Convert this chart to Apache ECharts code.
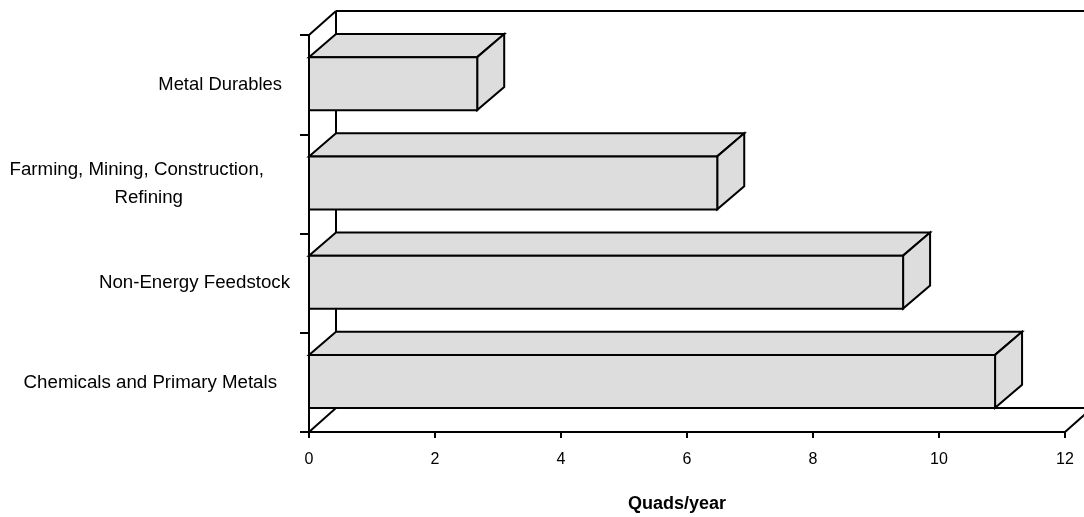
<!DOCTYPE html>
<html>
<head>
<meta charset="utf-8">
<script src="https://cdn.jsdelivr.net/npm/echarts@6/dist/echarts.min.js"></script>
<style>
  html, body { margin: 0; padding: 0; background: #ffffff; }
  #chart { width: 1084px; height: 517px; }
</style>
</head>
<body>
<div id="chart"></div>
<script>
// ---- data ----
const categories = [
  'Metal Durables',
  'Farming, Mining, Construction,\nRefining',
  'Non-Energy Feedstock',
  'Chemicals and Primary Metals'
];
const values = [2.67, 6.48, 9.43, 10.89];
const xTicks = [0, 2, 4, 6, 8, 10, 12];
const axisTitle = 'Quads/year';

// ---- styling ----
const FONT = "'Liberation Sans', Arial, Helvetica, sans-serif";
const DEPTH_X = 27;          // 3D depth offset in px (walls)
const DEPTH_Y = 24;
// per-line label layout (right padding from tick end, font size) - layout only
const labelLineLayout = [
  [[18, 18.4]],
  [[36, 18.7], [117, 18.7]],
  [[10, 18.7]],
  [[23, 18.7]]
];

const rich = {};
labelLineLayout.forEach(function (lines, i) {
  lines.forEach(function (cfg, j) {
    rich['c' + i + '_' + j] = {
      align: 'right', fontSize: cfg[1], fontFamily: FONT,
      color: '#000', lineHeight: 28, padding: [0, cfg[0], 0, 0]
    };
  });
});

const chart = echarts.init(document.getElementById('chart'), null, { renderer: 'canvas' });

const option = {
  animation: false,
  backgroundColor: '#ffffff',
  grid: {
    left: 309, right: 19, top: 35, bottom: 85,
    containLabel: false, outerBoundsMode: 'none'
  },
  xAxis: {
    type: 'value',
    min: xTicks[0],
    max: xTicks[xTicks.length - 1],
    interval: xTicks[1] - xTicks[0],
    splitLine: { show: false },
    axisLine: { show: true, lineStyle: { color: '#000', width: 2 } },
    axisTick: { show: true, length: 6, lineStyle: { color: '#000', width: 2 } },
    axisLabel: { color: '#000', fontSize: 16, fontFamily: FONT, margin: 20 },
    name: axisTitle,
    nameLocation: 'middle',
    nameGap: 63,
    nameTextStyle: {
      color: '#000', fontSize: 18, fontWeight: 'bold', fontFamily: FONT,
      padding: [0, 20, 0, 0]
    }
  },
  yAxis: {
    type: 'category',
    inverse: true,
    data: categories,
    splitLine: { show: false },
    axisLine: { show: true, lineStyle: { color: '#000', width: 2 } },
    axisTick: { show: true, length: 9, lineStyle: { color: '#000', width: 2 } },
    axisLabel: {
      margin: 9,
      align: 'right',
      formatter: function (val, idx) {
        return String(val).split('\n').map(function (s, j) {
          return '{c' + idx + '_' + j + '|' + s + '}';
        }).join('\n');
      },
      rich: rich
    }
  },
  series: [
    {
      // back walls / floor of the 3D frame
      type: 'custom',
      silent: true,
      z: 1,
      data: [[0, 0]],
      encode: { x: 0, y: 1 },
      renderItem: function (params, api) {
        const cs = params.coordSys;
        const x0 = cs.x, y0 = cs.y, x1 = cs.x + cs.width, y1 = cs.y + cs.height;
        const st = { stroke: '#000', lineWidth: 2, fill: null };
        function L(a, b, c, d) {
          return { type: 'line', shape: { x1: a, y1: b, x2: c, y2: d }, style: st };
        }
        return {
          type: 'group',
          children: [
            L(x0, y0, x0 + DEPTH_X, y0 - DEPTH_Y),
            L(x0 + DEPTH_X, y0 - DEPTH_Y, x1 + DEPTH_X, y0 - DEPTH_Y),
            L(x0 + DEPTH_X, y0 - DEPTH_Y, x0 + DEPTH_X, y1 - DEPTH_Y),
            L(x0 + DEPTH_X, y1 - DEPTH_Y, x1 + DEPTH_X, y1 - DEPTH_Y),
            L(x0, y1, x0 + DEPTH_X, y1 - DEPTH_Y),
            L(x1, y1, x1 + DEPTH_X, y1 - DEPTH_Y),
            L(x1 + DEPTH_X, y0 - DEPTH_Y, x1 + DEPTH_X, y1 - DEPTH_Y)
          ]
        };
      }
    },
    {
      // 3D bars
      type: 'custom',
      z: 2,
      data: values.map(function (v, i) { return [v, i]; }),
      encode: { x: 0, y: 1 },
      renderItem: function (params, api) {
        const v = api.value(0);
        const i = api.value(1);
        const p0 = api.coord([0, i]);
        const p1 = api.coord([v, i]);
        const bh = api.size([0, 1])[1];
        const top = p0[1] - 0.277 * bh;
        const h = 0.534 * bh;
        const bot = top + h;
        const dx = DEPTH_X;
        const dy = 0.232 * bh;
        const xl = p0[0], xr = p1[0];
        const st = { fill: '#dddddd', stroke: '#000', lineWidth: 2, lineJoin: 'miter' };
        return {
          type: 'group',
          children: [
            { type: 'polygon', shape: { points: [[xl, top], [xr, top], [xr + dx, top - dy], [xl + dx, top - dy]] }, style: st },
            { type: 'polygon', shape: { points: [[xr, top], [xr + dx, top - dy], [xr + dx, bot - dy], [xr, bot]] }, style: st },
            { type: 'rect', shape: { x: xl, y: top, width: xr - xl, height: h }, style: st }
          ]
        };
      }
    }
  ]
};

chart.setOption(option);
</script>
</body>
</html>
